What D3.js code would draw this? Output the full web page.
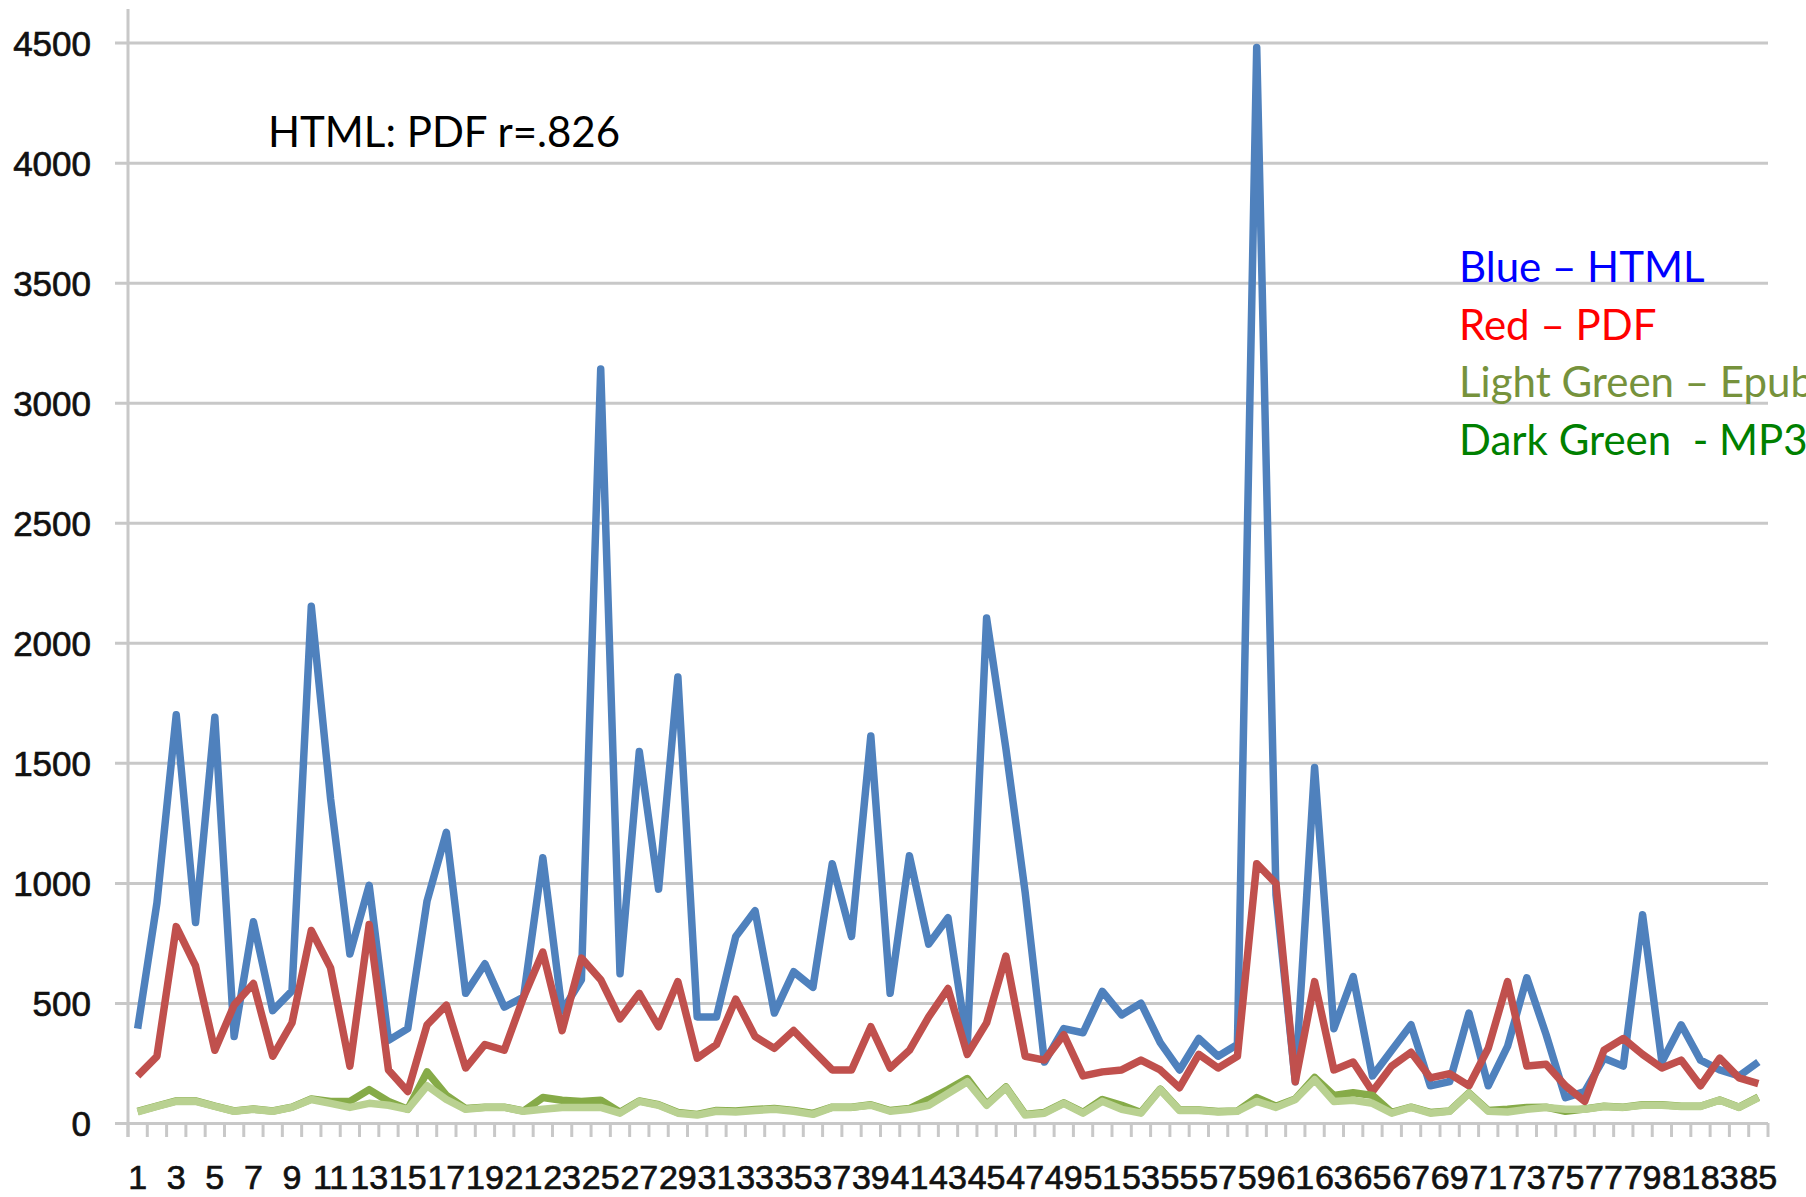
<!DOCTYPE html>
<html>
<head>
<meta charset="utf-8">
<script src="https://cdn.jsdelivr.net/npm/d3@7"></script>
<style>
  body { margin: 0; background: #fff; }
  svg { display: block; }
</style>
</head>
<body>
<div id="chart"></div>
<script>
// categories 1..85
var CATEGORIES = d3.range(1, 86);

var HTML = [393, 917, 1700, 835, 1690, 360, 838, 468, 550, 2152,
    1350, 704, 990, 344, 393, 925, 1211, 540, 663, 483,
    524, 1105, 466, 597, 3140, 622, 1547, 974, 1858, 442,
    442, 777, 884, 458, 630, 565, 1080, 777, 1612, 540,
    1113, 745, 855, 327, 2103, 1560, 960, 254, 393, 376,
    548, 450, 499, 335, 221, 352, 278, 327, 4480, 950,
    172, 1481, 393, 610, 196, 303, 409, 155, 172, 458,
    155, 319, 605, 368, 106, 131, 270, 237, 867, 254,
    409, 262, 221, 196, 254];

var PDF = [196, 278, 818, 655, 303, 491, 581, 278, 417, 802,
    646, 237, 827, 221, 131, 409, 491, 229, 327, 303,
    524, 712, 385, 687, 597, 434, 540, 401, 589, 270,
    327, 516, 360, 311, 385, 303, 221, 221, 401, 229,
    303, 442, 560, 286, 417, 695, 278, 262, 368, 196,
    213, 221, 262, 221, 147, 286, 229, 278, 1080, 998,
    172, 589, 221, 254, 131, 237, 295, 188, 205, 155,
    311, 589, 237, 245, 155, 90, 303, 352, 286, 229,
    262, 155, 270, 188, 164];

var EPUB = [46, 69, 90, 90, 69, 49, 57, 49, 65, 98,
    82, 65, 82, 74, 57, 155, 98, 57, 65, 65,
    49, 57, 65, 65, 65, 41, 90, 74, 41, 33,
    49, 46, 52, 57, 49, 36, 65, 65, 74, 49,
    57, 74, 123, 172, 74, 147, 33, 41, 82, 41,
    90, 57, 41, 139, 52, 52, 46, 49, 90, 65,
    98, 180, 90, 95, 82, 41, 65, 41, 49, 123,
    49, 46, 57, 65, 57, 57, 69, 65, 74, 74,
    69, 69, 95, 65, 106];

var MP3 = [48, 70, 92, 92, 70, 50, 58, 50, 66, 100,
    90, 90, 139, 90, 57, 213, 115, 60, 66, 66,
    50, 106, 95, 90, 95, 45, 92, 76, 44, 36,
    52, 50, 56, 60, 52, 40, 66, 66, 76, 52,
    60, 98, 139, 185, 78, 150, 36, 44, 84, 44,
    98, 74, 44, 141, 54, 54, 48, 50, 106, 70,
    100, 190, 115, 126, 115, 44, 66, 44, 50, 125,
    52, 57, 65, 66, 49, 58, 70, 66, 76, 76,
    70, 70, 96, 66, 108];

var Y_TICKS = d3.range(0, 4501, 500);

var SERIES = [
    {name: "HTML", values: HTML, color: "#4f81bd"},
    {name: "PDF", values: PDF, color: "#c0504d"},
    {name: "MP3", values: MP3, color: "#86ab48"},
    {name: "Epub", values: EPUB, color: "#b9d191"}
];

var LEGEND = [
    {text: "Blue \u2013 HTML", color: "#0000ff"},
    {text: "Red \u2013 PDF", color: "#ff0000"},
    {text: "Light Green \u2013 Epub", color: "#76923c"},
    {text: "Dark Green  - MP3", color: "#008000"}
];

var W = 1806, H = 1197;
var plotLeft = 128, plotRight = 1768, plotTop = 42.6, plotBottom = 1123;

var svg = d3.select("#chart").append("svg")
    .attr("width", W)
    .attr("height", H);

var x = d3.scaleBand()
    .domain(CATEGORIES)
    .range([plotLeft, plotRight])
    .padding(0);

var y = d3.scaleLinear()
    .domain([0, 4500])
    .range([plotBottom, plotTop]);

//gridlines + y labels
var yAxis = svg.append("g")
    .attr("class", "y axis")
    .attr("transform", "translate(" + plotLeft + ",0)")
    .call(d3.axisLeft(y).tickValues(Y_TICKS).tickFormat(d3.format("d")).tickSize(0).tickPadding(37));

yAxis.select(".domain").remove();

yAxis.selectAll(".tick line")
    .attr("x1", -13)
    .attr("x2", plotRight - plotLeft)
    .attr("stroke", "#c8c8c8")
    .attr("stroke-width", 3);

yAxis.selectAll(".tick text")
    .attr("font-family", "'Liberation Sans', Arial, sans-serif")
    .attr("font-size", 35)
    .attr("fill", "#111")
    .attr("stroke", "#111")
    .attr("stroke-width", 0.7)
    .attr("dy", "0.36em");

//vertical axis line
svg.append("line")
    .attr("x1", plotLeft).attr("x2", plotLeft)
    .attr("y1", 9).attr("y2", plotBottom + 14)
    .attr("stroke", "#c8c8c8")
    .attr("stroke-width", 3);

//x tick marks on category boundaries
var bounds = CATEGORIES.map(function (d) { return x(d); }).concat([plotRight]);
svg.append("g")
    .selectAll("line")
    .data(bounds)
    .enter().append("line")
    .attr("x1", function (d) { return d; })
    .attr("x2", function (d) { return d; })
    .attr("y1", plotBottom)
    .attr("y2", plotBottom + 14)
    .attr("stroke", "#c8c8c8")
    .attr("stroke-width", 3);

//x labels, every other category
svg.append("g")
    .selectAll("text")
    .data(CATEGORIES.filter(function (d) { return d % 2 === 1; }))
    .enter().append("text")
    .attr("x", function (d) { return x(d) + x.bandwidth() / 2; })
    .attr("y", 1189)
    .attr("text-anchor", "middle")
    .attr("font-family", "'Liberation Sans', Arial, sans-serif")
    .attr("font-size", 34)
    .attr("fill", "#111")
    .attr("stroke", "#111")
    .attr("stroke-width", 0.7)
    .text(function (d) { return d; });

//lines
var line = d3.line()
    .x(function (d, i) { return x(CATEGORIES[i]) + x.bandwidth() / 2; })
    .y(function (d) { return y(d); });

svg.append("g")
    .selectAll("path")
    .data(SERIES)
    .enter().append("path")
    .attr("d", function (d) { return line(d.values); })
    .attr("fill", "none")
    .attr("stroke", function (d) { return d.color; })
    .attr("stroke-width", 7.5)
    .attr("stroke-linejoin", "round");

//annotation
svg.append("text")
    .attr("x", 268)
    .attr("y", 147)
    .attr("font-family", "Lato, 'Open Sans', sans-serif")
    .attr("font-size", 42)
    .attr("fill", "#000")
    .text("HTML: PDF r=.826");

//legend text
svg.append("g")
    .selectAll("text")
    .data(LEGEND)
    .enter().append("text")
    .attr("x", 1459)
    .attr("y", function (d, i) { return 282 + i * 57.5; })
    .attr("font-family", "Lato, 'Open Sans', sans-serif")
    .attr("font-size", 42)
    .attr("fill", function (d) { return d.color; })
    .attr("xml:space", "preserve")
    .text(function (d) { return d.text; });
</script>
</body>
</html>
